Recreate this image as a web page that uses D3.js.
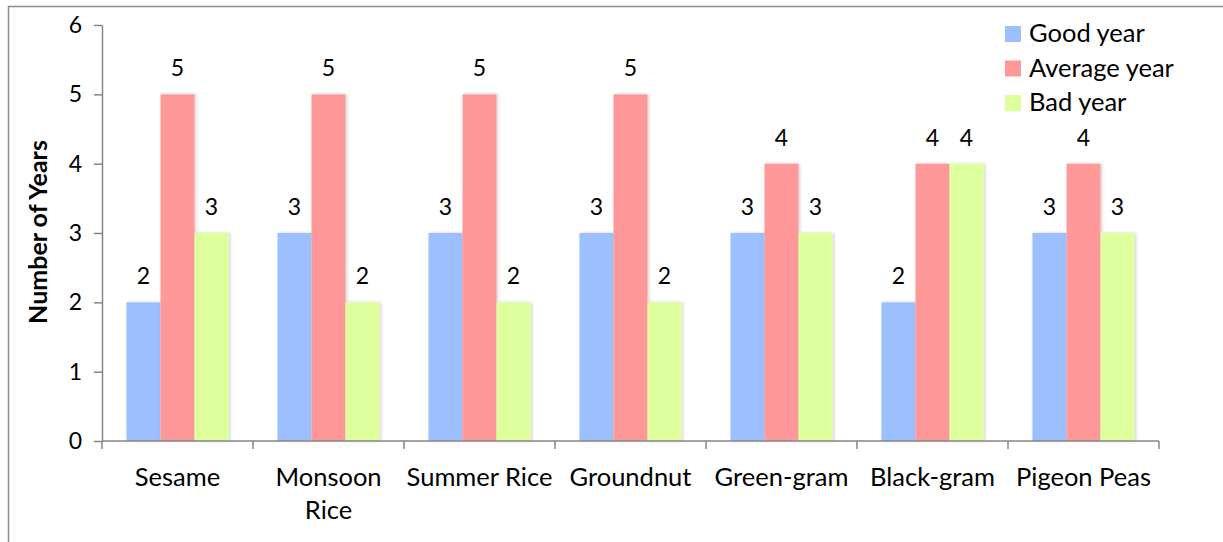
<!DOCTYPE html>
<html>
<head>
<meta charset="utf-8">
<script src="https://cdn.jsdelivr.net/npm/d3@7/dist/d3.min.js"></script>
<style>
html,body{margin:0;padding:0;background:#fff;}
svg{display:block;font-family:Lato, "Open Sans", sans-serif;}
</style>
</head>
<body>
<svg id="chart" width="1223" height="542"></svg>
<script>
const categories = ["Sesame", "Monsoon Rice", "Summer Rice", "Groundnut", "Green-gram", "Black-gram", "Pigeon Peas"];
const categoryLines = [["Sesame"], ["Monsoon", "Rice"], ["Summer Rice"], ["Groundnut"], ["Green-gram"], ["Black-gram"], ["Pigeon Peas"]];
const seriesNames = ["Good year", "Average year", "Bad year"];
const goodYear = [2, 3, 3, 3, 3, 2, 3];
const averageYear = [5, 5, 5, 5, 4, 4, 4];
const badYear = [3, 2, 2, 2, 3, 4, 3];
const yTicks = [0, 1, 2, 3, 4, 5, 6];
const colors = ["#9BBFFF", "#FF9999", "#DDFF9C"];

const seriesValues = [goodYear, averageYear, badYear];
const svg = d3.select("#chart");

// frame
svg.append("rect").attr("x", 8.5).attr("y", 6.5).attr("width", 1240).attr("height", 560)
  .attr("fill", "none").attr("stroke", "#8c8c8c").attr("stroke-width", 1.5);

const defs = svg.append("defs");
const f = defs.append("filter").attr("id", "sh").attr("x", "-20%").attr("y", "-20%").attr("width", "150%").attr("height", "150%");
f.append("feDropShadow").attr("dx", 1.5).attr("dy", 0).attr("stdDeviation", 1.5).attr("flood-color", "#000").attr("flood-opacity", 0.18);

const x0 = d3.scaleBand().domain(categories).range([102, 1159]).paddingInner(0).paddingOuter(0);
const x1 = d3.scaleBand().domain(seriesNames).range([0, x0.bandwidth()]).paddingInner(0).paddingOuter(0.72);
const y = d3.scaleLinear().domain([0, 6]).range([441, 25]);

// y axis
const yAxis = svg.append("g").attr("transform", "translate(102,0)")
  .call(d3.axisLeft(y).tickValues(yTicks).tickSize(8).tickSizeOuter(0).tickPadding(12).tickFormat(d3.format("d")));
yAxis.select(".domain").attr("stroke", "#868686").attr("stroke-width", 1.5);
yAxis.selectAll(".tick line").attr("stroke", "#868686").attr("stroke-width", 1.5);
yAxis.selectAll(".tick text").attr("font-size", 23).attr("fill", "#000").attr("font-family", "Lato");

// bars
const groups = svg.append("g").selectAll("g").data(categories).join("g")
  .attr("transform", d => `translate(${x0(d)},0)`);
groups.each(function(cat, ci) {
  const g = d3.select(this);
  seriesNames.forEach((s, si) => {
    const v = seriesValues[si][ci];
    g.append("rect")
      .attr("x", x1(s)).attr("width", x1.bandwidth())
      .attr("y", y(v)).attr("height", y(0) - y(v))
      .attr("fill", colors[si]).attr("filter", "url(#sh)");
  });
});
groups.each(function(cat, ci) {
  const g = d3.select(this);
  seriesNames.forEach((s, si) => {
    const v = seriesValues[si][ci];
    g.append("text")
      .attr("x", x1(s) + x1.bandwidth() / 2)
      .attr("y", y(v) - 18)
      .attr("text-anchor", "middle").attr("font-size", 23).attr("fill", "#000")
      .text(v);
  });
});

// x axis
const xAxisG = svg.append("g").attr("transform", "translate(0,441)");
xAxisG.append("line").attr("x1", 102).attr("x2", 1159).attr("y1", 0).attr("y2", 0)
  .attr("stroke", "#868686").attr("stroke-width", 1.5);
const bounds = categories.map(c => x0(c)).concat([x0(categories[categories.length - 1]) + x0.bandwidth()]);
xAxisG.selectAll("line.t").data(bounds).join("line").attr("class", "t")
  .attr("x1", d => d).attr("x2", d => d).attr("y1", 0).attr("y2", 8)
  .attr("stroke", "#868686").attr("stroke-width", 1.5);
categories.forEach((c, i) => {
  const t = xAxisG.append("text").attr("text-anchor", "middle").attr("font-size", 25.5).attr("fill", "#000")
    .attr("x", x0(c) + x0.bandwidth() / 2).attr("y", 45);
  categoryLines[i].forEach((line, li) => {
    t.append("tspan").attr("x", x0(c) + x0.bandwidth() / 2).attr("dy", li === 0 ? 0 : 33).text(line);
  });
});

// y title
svg.append("text").attr("transform", "translate(47,232) rotate(-90)")
  .attr("text-anchor", "middle").attr("font-size", 25).attr("font-weight", "bold").attr("fill", "#000")
  .text("Number of Years");

// legend
const legend = svg.append("g");
seriesNames.forEach((s, i) => {
  const cy = 34 + i * 34.5;
  legend.append("rect").attr("x", 1005).attr("y", cy - 8).attr("width", 16).attr("height", 16).attr("fill", colors[i]);
  legend.append("text").attr("x", 1029).attr("y", cy + 8).attr("font-size", 25.5).attr("fill", "#000").text(s);
});
</script>
</body>
</html>
